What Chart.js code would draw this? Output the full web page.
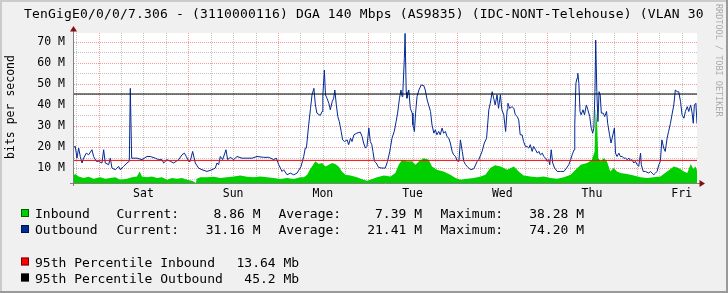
<!DOCTYPE html>
<html>
<head>
<meta charset="utf-8">
<script src="https://cdn.jsdelivr.net/npm/chart.js@4/dist/chart.umd.min.js"></script>
<style>
html,body{margin:0;padding:0;background:#F0F0F0;}
#wrap{width:728px;height:293px;position:relative;}
</style>
</head>
<body>
<div id="wrap"><canvas id="c" width="728" height="293"></canvas></div>
<script>
// ---------- data (hours relative to Saturday 00:00, values in Mbit/s) ----------
const titleText = 'TenGigE0/0/0/7.306 - (3110000116) DGA 140 Mbps (AS9835) (IDC-NONT-Telehouse) (VLAN 30';
const yAxisTitle = 'bits per second';
const dayLabels = ['Sat','Sun','Mon','Tue','Wed','Thu','Fri'];
const xStart = -6.85, xEnd = 160.1;
const yMin = 2.9, yMax = 74.2;

const outTimes = [-6.86,-6.24,-5.79,-5.34,-4.90,-4.45,-4.00,-3.29,-2.67,-1.78,-1.33,-0.62,0.0,0.9,1.35,1.79,2.68,3.13,3.58,4.47,5.36,5.8,6.7,7.59,8.22,8.48,8.84,10.27,11.6,12.94,13.83,15.17,16.06,16.95,17.4,18.3,19.19,20.08,21.42,22.31,22.94,23.47,24.1,24.5,25.16,25.87,26.76,27.66,29.0,30.33,31.22,31.67,32.12,32.56,33.19,34.08,34.53,35.24,36.14,37.03,38.37,39.71,41.05,42.39,44.18,45.51,46.85,47.56,48.19,49.08,49.52,50.42,51.31,52.2,53.1,54.17,54.88,55.3,55.6,56.2,56.7,57.1,57.6,58.0,58.4,59.3,59.8,60.0,60.4,60.7,61.1,61.6,62.0,62.5,62.9,63.2,63.6,64.0,64.4,64.9,65.3,65.8,66.5,66.9,67.4,67.8,68.3,69.1,70.0,70.5,70.9,71.4,71.8,72.3,72.7,73.1,73.4,73.8,74.3,74.9,75.8,76.7,77.3,77.9,78.5,79.1,79.6,80.0,80.5,80.9,81.2,81.4,81.8,82.0,82.3,82.5,83.0,83.4,83.9,84.1,84.5,84.8,85.2,85.7,86.3,87.0,87.4,87.9,88.3,88.8,89.2,89.7,90.1,90.5,91.0,91.4,91.9,92.3,92.8,93.2,93.7,94.1,94.6,95.0,95.5,95.9,96.4,96.8,97.3,97.7,98.2,98.6,99.5,100.4,101.3,101.7,102.6,103.2,103.8,104.4,104.8,105.3,105.7,106.1,106.6,107.0,107.5,107.9,108.4,108.9,109.3,109.5,110.0,110.6,111.1,111.5,112.0,112.4,112.8,113.3,113.7,114.2,114.6,115.1,115.5,116.0,116.4,116.9,117.4,117.8,118.2,118.7,119.1,119.6,120.0,120.4,120.7,121.1,121.5,122.0,122.7,123.6,124.5,125.2,125.8,126.3,126.7,127.2,127.4,127.7,128.0,128.2,128.5,128.8,129.1,129.6,130.0,130.5,130.9,131.4,131.8,132.2,132.5,132.8,133.0,133.3,133.6,133.9,134.2,134.5,135.0,135.4,135.9,136.2,136.7,137.1,137.6,138.0,138.3,138.7,139.2,139.6,140.1,140.5,141.0,141.4,141.9,142.3,142.7,143.2,143.6,144.1,144.5,145.0,145.2,145.7,146.3,147.2,147.6,148.1,148.5,149.0,149.4,149.9,150.3,150.7,151.2,151.6,152.1,152.5,153.0,153.4,153.9,154.3,154.8,155.2,155.7,156.1,156.6,157.0,157.5,157.9,158.4,158.8,159.1,159.4,159.8,160.1];
const outValues = [19.8,20.3,14.7,19.5,15.5,12.4,14.7,17.1,16.3,18.7,15.5,13.2,13.2,12.4,18.7,12.4,11.6,14.7,10.0,9.2,10.8,9.2,10.8,12.4,13.2,47.9,14.7,14.7,14.0,15.5,15.5,14.7,14.0,14.0,12.4,14.0,13.2,12.4,14.0,16.3,17.1,15.5,13.2,13.2,17.9,12.4,10.0,9.2,8.4,9.2,10.0,12.4,11.6,15.5,14.0,18.7,14.0,15.1,14.0,15.5,14.7,14.7,14.7,15.5,15.1,15.1,14.0,14.7,11.6,8.4,9.2,6.8,7.6,6.8,7.6,10.8,15.5,19.5,19.5,30.5,38.4,44.8,47.9,40.0,36.1,35.0,36.9,44.8,56.6,44.8,43.2,40.8,37.7,41.6,43.2,47.1,40.0,34.5,32.1,27.4,23.4,22.6,23.4,21.1,24.2,22.6,25.8,26.6,27.1,25.0,21.9,19.5,20.3,29.0,22.6,21.1,17.9,13.2,12.4,10.3,10.0,10.0,13.2,17.9,24.2,27.4,32.1,36.1,43.2,47.1,44.0,46.3,62.1,74.0,46.3,43.2,47.1,38.4,36.1,30.5,27.4,36.1,44.0,47.1,49.5,49.2,47.1,42.4,40.0,36.9,30.5,26.6,28.2,25.8,27.4,25.8,29.0,26.6,27.4,25.0,24.2,21.9,17.9,16.3,15.5,13.5,13.2,23.4,17.9,13.2,11.6,10.8,9.2,9.7,13.2,14.0,17.9,21.9,24.2,37.7,40.8,46.3,43.2,40.0,44.8,38.4,44.8,37.7,35.3,27.4,37.7,40.8,38.4,39.2,38.4,35.3,34.5,32.9,25.8,25.8,22.6,20.3,20.3,19.5,21.1,17.9,20.3,18.7,17.1,17.9,16.3,17.1,15.5,14.7,13.2,14.0,11.6,18.7,12.4,10.0,8.4,8.4,8.4,10.0,11.6,14.0,16.3,18.7,30.5,50.3,52.7,55.0,50.3,36.9,35.3,37.7,35.3,40.0,37.7,34.5,29.0,26.6,29.0,46.3,70.8,46.3,32.1,46.3,44.8,36.1,36.1,34.5,36.9,31.3,25.8,21.9,25.8,29.0,17.1,15.5,17.1,15.5,15.5,14.7,14.7,14.0,14.7,13.5,14.0,12.4,13.2,11.6,10.8,17.1,11.6,8.4,8.4,7.6,8.4,7.6,6.8,7.6,8.4,11.6,13.2,23.4,19.5,17.9,24.2,27.4,31.3,35.3,40.0,47.1,46.3,46.3,41.6,35.3,33.7,36.9,39.2,36.9,40.0,36.1,31.3,40.0,40.8,31.16];

const inTimes = [-6.86,-6.24,-5.34,-4.0,-2.67,-1.33,0.45,1.79,3.13,4.47,5.8,7.59,8.93,10.27,10.98,11.6,12.94,14.28,15.62,16.95,18.3,19.6,20.97,22.31,23.65,24.99,25.6,25.98,26.3,27.2,29.0,30.8,32.56,34.35,36.14,37.9,39.71,41.5,43.3,45.07,46.85,48.6,50.42,52.2,54.0,54.9,55.8,56.5,57.1,58.0,58.9,59.8,60.7,61.6,62.5,63.3,64.2,65.1,66.0,67.4,69.1,70.9,71.8,72.7,74.5,76.3,78.1,79.4,80.3,81.2,82.5,83.9,84.8,85.7,87.0,88.3,89.2,90.5,92.3,94.1,95.5,96.8,98.6,100.4,102.2,103.5,104.8,106.1,107.5,108.4,109.3,111.1,112.4,113.7,115.5,117.4,119.1,120.9,122.7,124.5,126.3,127.6,129.0,130.7,132.0,132.7,133.0,133.4,133.7,134.3,135.2,136.0,136.9,137.8,138.7,139.6,141.4,143.2,145.0,146.7,148.5,150.3,152.1,153.9,155.2,156.6,157.5,158.4,159.1,159.7,160.1];
const inValues = [6.5,7.2,6.0,5.3,5.9,4.9,5.6,4.9,5.3,5.6,4.5,4.9,5.6,6.0,8.4,6.0,5.6,6.0,5.3,5.6,4.5,5.3,4.9,5.3,4.5,4.0,3.4,2.9,4.9,5.6,5.6,5.9,5.3,5.6,6.0,6.5,5.9,5.6,6.0,5.6,5.3,4.8,5.3,4.8,5.6,5.6,6.8,9.2,10.8,13.2,11.9,12.4,10.8,11.6,12.4,11.9,10.8,8.4,6.8,6.5,5.6,4.5,4.0,4.5,5.6,6.5,6.0,7.6,11.6,14.0,13.2,13.2,11.6,13.2,14.7,14.0,10.8,9.2,8.4,6.8,5.3,4.5,4.9,5.3,6.0,6.8,10.0,11.3,10.8,10.0,9.2,10.8,8.4,6.5,6.0,5.6,6.0,5.3,4.9,5.6,6.8,9.2,11.6,12.4,14.0,17.9,38.28,30.5,14.7,13.2,14.7,13.2,8.4,10.0,8.4,7.6,7.2,6.5,5.6,5.3,5.6,6.0,8.4,10.8,10.0,8.4,7.6,11.9,9.7,10.8,8.86];

const pct95In = 13.64, pct95Out = 45.2;
const legendRows = [
  {name:'Inbound',  color:'#00CF00', current:'8.86 M',  average:'7.39 M',  maximum:'38.28 M'},
  {name:'Outbound', color:'#002A97', current:'31.16 M', average:'21.41 M', maximum:'74.20 M'}
];
const pctRows = [
  {name:'95th Percentile Inbound',  color:'#FF0000', value:'13.64 Mb'},
  {name:'95th Percentile Outbound', color:'#000000', value:'45.2 Mb'}
];

// ---------- helpers ----------
const zip = (xs, ys) => xs.map((x, i) => ({x: x, y: ys[i]}));
const FONT = '"DejaVu Sans Mono", monospace';
const MAJOR = '#F09A9A', MINOR = '#C4C4C4';

const rrdPlugin = {
  id: 'rrd',
  beforeDraw(chart) {
    const ctx = chart.ctx, a = chart.chartArea;
    ctx.save();
    ctx.fillStyle = '#F0F0F0';
    ctx.fillRect(0, 0, chart.width, chart.height);
    ctx.fillStyle = '#CBCBCB';
    ctx.fillRect(0, 0, chart.width, 2);
    ctx.fillRect(0, 0, 2, chart.height);
    ctx.fillStyle = '#999999';
    ctx.fillRect(0, chart.height - 2, chart.width, 2);
    ctx.fillRect(chart.width - 2, 0, 2, chart.height);
    ctx.fillStyle = '#FFFFFF';
    ctx.fillRect(a.left, a.top, a.right - a.left, a.bottom - a.top);
    ctx.restore();
  },
  beforeDatasetsDraw(chart) {
    // dotted grid at the scales' own tick positions
    const ctx = chart.ctx, a = chart.chartArea, xs = chart.scales.x, ys = chart.scales.y;
    ctx.save();
    ctx.lineWidth = 1;
    ctx.setLineDash([1, 1]);
    ys.ticks.forEach(t => {
      const py = Math.round(ys.getPixelForValue(t.value)) + 0.5;
      ctx.strokeStyle = (t.value % 10 === 0) ? MAJOR : MINOR;
      ctx.beginPath();
      ctx.moveTo(a.left + 1, py);
      ctx.lineTo(a.right, py);
      ctx.stroke();
    });
    xs.ticks.forEach(t => {
      const px = Math.round(xs.getPixelForValue(t.value)) + 0.5;
      ctx.strokeStyle = (t.value % 24 === 0) ? MAJOR : MINOR;
      ctx.beginPath();
      ctx.moveTo(px, a.top);
      ctx.lineTo(px, a.bottom);
      ctx.stroke();
    });
    ctx.restore();
  },
  afterDraw(chart) {
    const ctx = chart.ctx, a = chart.chartArea;
    ctx.save();
    ctx.strokeStyle = '#808080';
    ctx.lineWidth = 1;
    ctx.beginPath();
    ctx.moveTo(a.left + 0.5, a.bottom + 3);
    ctx.lineTo(a.left + 0.5, a.top - 4);
    ctx.moveTo(a.left - 3, a.bottom + 0.5);
    ctx.lineTo(a.right + 4, a.bottom + 0.5);
    ctx.stroke();
    ctx.fillStyle = '#7F1010';
    ctx.beginPath();
    ctx.moveTo(a.left + 0.5, a.top - 7);
    ctx.lineTo(a.left - 3, a.top - 1.5);
    ctx.lineTo(a.left + 4, a.top - 1.5);
    ctx.closePath();
    ctx.fill();
    ctx.beginPath();
    ctx.moveTo(a.right + 8, a.bottom + 0.5);
    ctx.lineTo(a.right + 2.5, a.bottom - 3);
    ctx.lineTo(a.right + 2.5, a.bottom + 4);
    ctx.closePath();
    ctx.fill();

    ctx.fillStyle = '#000';
    ctx.font = '13px ' + FONT;
    ctx.letterSpacing = '0.17px';
    ctx.textAlign = 'left';
    ctx.textBaseline = 'alphabetic';
    ctx.fillText(titleText, 24, 18);
    ctx.letterSpacing = '0px';

    ctx.save();
    ctx.translate(11, 107);
    ctx.rotate(-Math.PI / 2);
    ctx.font = '11.5px ' + FONT;
    ctx.textAlign = 'center';
    ctx.textBaseline = 'middle';
    ctx.fillText(yAxisTitle, 0, 0);
    ctx.restore();

    ctx.save();
    ctx.translate(716, 4);
    ctx.rotate(Math.PI / 2);
    ctx.font = '8.5px ' + FONT;
    ctx.fillStyle = '#ABABAB';
    ctx.textAlign = 'left';
    ctx.textBaseline = 'alphabetic';
    ctx.fillText('RRDTOOL / TOBI OETIKER', 0, 0);
    ctx.restore();

    ctx.font = '13px ' + FONT;
    ctx.textBaseline = 'alphabetic';
    const box = (x, y, c) => {
      ctx.fillStyle = c;
      ctx.fillRect(x, y, 8, 8);
      ctx.strokeStyle = 'rgba(0,0,0,0.55)';
      ctx.lineWidth = 1;
      ctx.strokeRect(x + 0.5, y + 0.5, 7, 7);
    };
    const rowY = [218, 234];
    legendRows.forEach((r, i) => {
      const y = rowY[i];
      box(21, y - 9, r.color);
      ctx.fillStyle = '#000';
      ctx.textAlign = 'left';
      ctx.fillText(r.name, 35, y);
      ctx.fillText('Current:', 116.5, y);
      ctx.fillText('Average:', 278.5, y);
      ctx.fillText('Maximum:', 440.5, y);
      ctx.textAlign = 'right';
      ctx.fillText(r.current, 260.5, y);
      ctx.fillText(r.average, 422, y);
      ctx.fillText(r.maximum, 584, y);
    });
    const pY = [266.5, 282.5];
    const pX = [236.5, 244.3];
    pctRows.forEach((r, i) => {
      const y = pY[i];
      box(21, y - 9, r.color);
      ctx.fillStyle = '#000';
      ctx.textAlign = 'left';
      ctx.fillText(r.name, 35, y);
      ctx.fillText(r.value, pX[i], y);
    });
    ctx.restore();
  }
};

new Chart(document.getElementById('c'), {
  type: 'line',
  data: {
    datasets: [
      {label: '95th Percentile Inbound', data: zip([xStart, xEnd], [pct95In, pct95In]), borderColor: '#FF0000', borderWidth: 1, pointRadius: 0, fill: false, order: 0},
      {label: '95th Percentile Outbound', data: zip([xStart, xEnd], [pct95Out, pct95Out]), borderColor: '#000000', borderWidth: 1, pointRadius: 0, fill: false, order: 0},
      {label: 'Outbound', data: zip(outTimes, outValues), borderColor: '#002A97', borderWidth: 1, pointRadius: 0, tension: 0, fill: false, order: 1},
      {label: 'Inbound', data: zip(inTimes, inValues), borderColor: 'rgba(0,0,0,0)', borderWidth: 0, backgroundColor: '#00CF00', pointRadius: 0, tension: 0, fill: 'start', order: 2}
    ]
  },
  options: {
    responsive: false,
    animation: false,
    devicePixelRatio: 1,
    events: [],
    layout: {padding: {top: 33, right: 31, left: 0, bottom: 0}},
    plugins: {legend: {display: false}, title: {display: false}, tooltip: {enabled: false}},
    scales: {
      x: {
        type: 'linear', min: xStart, max: xEnd,
        afterFit: s => { s.height = 110; },
        afterBuildTicks: s => {
          const t = [];
          for (let v = -6; v <= xEnd; v += 6) t.push({value: v});
          s.ticks = t;
        },
        ticks: {
          autoSkip: false, maxRotation: 0, padding: 4,
          color: '#000', font: {family: FONT, size: 11.5},
          callback: v => (((v % 24) + 24) % 24 === 12) ? dayLabels[Math.floor(v / 24)] : ''
        },
        grid: {display: false, drawTicks: false},
        border: {display: false}
      },
      y: {
        type: 'linear', min: yMin, max: yMax,
        afterFit: s => { s.width = 73; },
        afterBuildTicks: s => {
          const t = [];
          for (let v = 5; v <= 70; v += 5) t.push({value: v});
          s.ticks = t;
        },
        ticks: {
          autoSkip: false, padding: 8, color: '#000', font: {family: FONT, size: 11.5},
          callback: v => (v % 10 === 0) ? (v + ' M') : ''
        },
        grid: {display: false, drawTicks: false},
        border: {display: false}
      }
    }
  },
  plugins: [rrdPlugin]
});
</script>
</body>
</html>
